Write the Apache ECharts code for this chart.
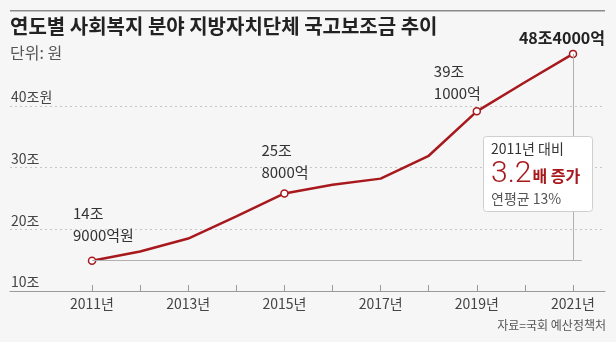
<!DOCTYPE html>
<html><head><meta charset="utf-8">
<script src="https://cdn.jsdelivr.net/npm/echarts@6/dist/echarts.min.js"></script>
<style>html,body{margin:0;padding:0;background:#f6f6f6}#c{width:616px;height:342px}</style>
</head><body><div id="c"></div>
<script>
// ---- data ----
const years = [2011, 2012, 2013, 2014, 2015, 2016, 2017, 2018, 2019, 2020, 2021];
const values = [14.9, 16.4, 18.5, 22.1, 25.8, 27.2, 28.2, 31.9, 39.1, 43.8, 48.4]; // 조원
const pointLabelYears = [2011, 2015, 2019, 2021];
const pointLabelTexts = ['14조\n9000억원', '25조\n8000억', '39조\n1000억', '48조4000억'];
const xLabelYears = [2011, 2013, 2015, 2017, 2019, 2021];
const yTickValues = [10, 20, 30, 40];
const yTickLabels = ['10조', '20조', '30조', '40조원'];
const titleText = '연도별 사회복지 분야 지방자치단체 국고보조금 추이';
const unitText = '단위: 원';
const sourceText = '자료=국회 예산정책처';
const boxLine1 = '2011년 대비';
const boxBig = '3.2';
const boxBigSuffix = '배 증가';
const boxLine3 = '연평균 13%';

// ---- style ----
const RED = '#a8191e';
const FONT = "'Noto Sans CJK KR', 'Noto Sans', sans-serif";
const labelStyles = {
  2011: {offset: [-19, -10]},
  2015: {offset: [-23, -6]},
  2019: {offset: [-43, -3]},
  2021: {offset: [32, -3], align: 'right', fontWeight: 'bold', fontSize: 16, color: '#222', lineHeight: 18}
};

const chart = echarts.init(document.getElementById('c'), null, {renderer: 'canvas'});
const last = years.length - 1;

const seriesData = years.map((y, i) => {
  const li = pointLabelYears.indexOf(y);
  const item = {value: [y, values[i]]};
  if (li >= 0) {
    item.symbol = 'circle';
    item.symbolSize = 7;
    item.label = Object.assign({
      show: true, formatter: pointLabelTexts[li], position: 'top', distance: 0,
      align: 'left', verticalAlign: 'bottom', fontSize: 15, lineHeight: 22, color: '#333', fontFamily: FONT
    }, labelStyles[y]);
  } else {
    item.symbol = 'none';
  }
  return item;
});

chart.setOption({
  animation: false,
  backgroundColor: '#f6f6f6',
  textStyle: {fontFamily: FONT},
  graphic: [{type: 'rect', shape: {x: 10, y: 10, width: 595, height: 1.5}, style: {fill: '#8a8a8a'}}],
  title: [
    {text: titleText, left: 10, top: 16, padding: 0,
     textStyle: {fontSize: 20, fontWeight: 'bold', color: '#222', lineHeight: 20, fontFamily: FONT}},
    {text: unitText, left: 10, top: 45, padding: 0,
     textStyle: {fontSize: 16, fontWeight: 'normal', color: '#555', lineHeight: 16, fontFamily: FONT}},
    {text: sourceText, right: 10, top: 318, padding: 0,
     textStyle: {fontSize: 12, fontWeight: 'normal', color: '#555', lineHeight: 14, fontFamily: FONT}},
    {text: '{a|' + boxLine1 + '}\n{b|' + boxBig + '}{c|' + boxBigSuffix + '}\n{d|' + boxLine3 + '}',
     left: 483, top: 133, padding: [6, 12, 6, 8], backgroundColor: '#ffffff', borderColor: '#cfcfcf',
     borderWidth: 1, borderRadius: 3, z: 10,
     textStyle: {fontFamily: FONT, fontWeight: 'normal', rich: {
       a: {fontSize: 14, color: '#333', lineHeight: 20, fontWeight: 'normal', fontFamily: FONT},
       b: {fontSize: 30, color: RED, lineHeight: 30, fontFamily: 'Roboto, sans-serif', fontWeight: 300},
       c: {fontSize: 16, color: RED, lineHeight: 30, fontWeight: 'bold', fontFamily: FONT, padding: [4, 0, 0, 1]},
       d: {fontSize: 14, color: '#555', lineHeight: 20, fontWeight: 'normal', fontFamily: FONT}
     }}}
  ],
  grid: {left: 10, right: 11, top: 44, bottom: 51, containLabel: false, outerBoundsMode: 'none'},
  xAxis: {
    type: 'value', min: 2009.295, max: 2021.665,
    axisLine: {show: true, onZero: false, lineStyle: {color: '#9a9a9a', width: 1}},
    axisTick: {show: true, inside: true, length: 6, customValues: years, lineStyle: {color: '#9a9a9a'}},
    axisLabel: {customValues: xLabelYears, formatter: v => v + '년', margin: 6, fontSize: 14, color: '#444', fontFamily: FONT},
    splitLine: {show: false}
  },
  yAxis: {
    type: 'value', min: 10, max: 50, interval: 10,
    axisLine: {show: false}, axisTick: {show: false},
    splitLine: {show: true, showMaxLine: false, lineStyle: {color: '#c6c6c6', width: 1, type: [2, 3]}},
    axisLabel: {inside: true, margin: 1, align: 'left', verticalAlign: 'bottom',
      customValues: yTickValues,
      formatter: v => { const k = yTickValues.indexOf(v); return k >= 0 ? yTickLabels[k] : ''; },
      fontSize: 14, lineHeight: 16, padding: [0, 0, 1, 0], color: '#444', fontFamily: FONT}
  },
  series: [{
    type: 'line', data: seriesData, smooth: false, showAllSymbol: true,
    lineStyle: {color: RED, width: 2.5},
    itemStyle: {color: '#ffffff', borderColor: RED, borderWidth: 1.5},
    emphasis: {disabled: true},
    z: 3,
    markLine: {
      silent: true, symbol: 'none', label: {show: false}, animation: false,
      lineStyle: {color: '#b0b0b0', width: 1, type: 'solid'},
      emphasis: {disabled: true},
      data: [
        [{coord: [years[0], values[0]]}, {coord: [years[last] + 0.18, values[0]]}],
        [{coord: [years[last], values[0]]}, {coord: [years[last], values[last]]}]
      ]
    }
  }]
});
</script></body></html>
